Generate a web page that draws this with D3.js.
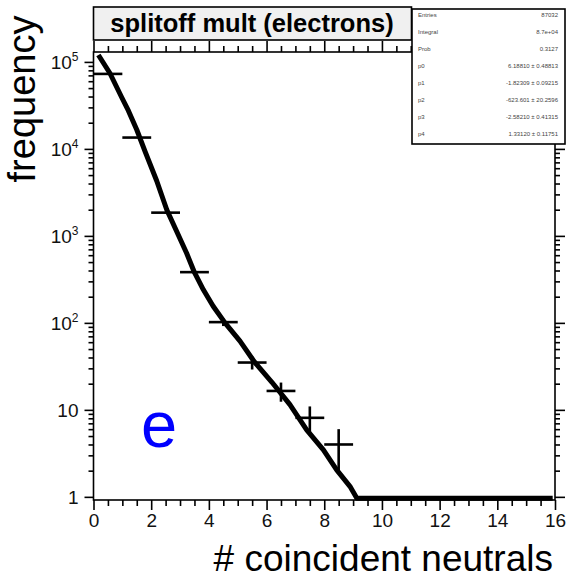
<!DOCTYPE html>
<html>
<head>
<meta charset="utf-8">
<script src="https://cdn.jsdelivr.net/npm/d3@7"></script>
<style>
  html, body { margin: 0; padding: 0; background: #fff; }
  svg { display: block; font-family: "Liberation Sans", Arial, sans-serif; }
</style>
</head>
<body>
<svg id="chart" width="567" height="578"></svg>
<script>
// ---- data ----
const binCenters = [0.5, 1.5, 2.5, 3.5, 4.5, 5.5, 6.5, 7.5, 8.5];
const binCounts  = [72800, 13500, 1850, 383, 102, 35, 16.5, 8.1, 4];
const binErrors  = [270, 116, 43, 19.6, 10.1, 5.9, 4.1, 2.85, 2];
const binHalfWidth = 0.5;

const fitX = [0.17, 0.57, 0.98, 1.21, 1.50, 1.79, 2.19, 2.54, 2.83, 3.23, 3.50, 3.81, 4.15, 4.56, 5.08, 5.58, 6.18, 6.81, 7.39, 7.97, 8.43, 8.89, 9.13, 15.92];
const fitY = [120200, 74100, 39000, 27500, 16600, 9300, 4300, 2000, 1230, 631, 380, 240, 155, 100, 61.7, 35.5, 20.9, 11.5, 5.89, 3.47, 2.04, 1.32, 0.965, 0.965];

const xTickValues = [0, 2, 4, 6, 8, 10, 12, 14, 16];
const xTickLabels = ["0", "2", "4", "6", "8", "10", "12", "14", "16"];
const yTickValues = [1, 10, 100, 1000, 10000, 100000];
const yTickBase   = ["1", "10", "10", "10", "10", "10"];
const yTickExp    = ["", "", "2", "3", "4", "5"];

const titleText = "splitoff mult (electrons)";
const xLabel = "# coincident neutrals";
const yLabel = "frequency";
const panelTag = "e";

const statNames  = ["Entries", "Integral", "Prob", "p0", "p1", "p2", "p3", "p4"];
const statValues = ["87032", "8.7e+04", "0.3127", "6.18810 \u00b1 0.48813", "-1.82309 \u00b1 0.09215",
                     "-623.601 \u00b1 20.2596", "-2.58210 \u00b1 0.41315", "1.33120 \u00b1 0.11751"];

// ---- layout ----
const svg = d3.select("#chart");
const X0 = 93.5, X1 = 555, Y0 = 500, Y1 = 52;

const x = d3.scaleLinear().domain([0, 16]).range([X0, X1]);
const y = d3.scaleLog().domain([0.92, 1.3e5]).range([Y0, Y1]);

const xMinor = d3.range(0, 16.001, 0.5).filter(v => !xTickValues.includes(v));
const yMinor = [];
for (let e = 0; e <= 5; e++) for (let m = 2; m <= 9; m++) {
  const v = m * Math.pow(10, e);
  if (v >= 0.92 && v <= 1.3e5) yMinor.push(v);
}

const lw = 1.6;
function styleAxis(g) {
  g.select(".domain").remove();
  g.selectAll("line").attr("stroke", "#000").attr("stroke-width", lw);
}

// title box
svg.append("rect").attr("x", X0).attr("y", 7).attr("width", 318).attr("height", 33)
  .attr("fill", "#f0f0f0").attr("stroke", "#000").attr("stroke-width", lw);
svg.append("text").attr("x", 252).attr("y", 32).attr("text-anchor", "middle")
  .attr("font-size", 25.5).attr("font-weight", "bold").text(titleText);

// axes
const gB = svg.append("g").attr("transform", `translate(0,${Y0})`)
  .call(d3.axisBottom(x).tickValues(xTickValues).tickSize(10).tickPadding(4)
    .tickFormat((d, i) => xTickLabels[i]));
styleAxis(gB);
gB.selectAll("text").attr("font-size", 19).attr("fill", "#111").attr("font-family", null);
svg.append("g").attr("transform", `translate(0,${Y0})`)
  .call(d3.axisBottom(x).tickValues(xMinor).tickSize(6).tickFormat("")).call(styleAxis);

svg.append("g").attr("transform", `translate(0,${Y1})`)
  .call(d3.axisTop(x).tickValues(xTickValues).tickSize(11).tickFormat("")).call(styleAxis);
svg.append("g").attr("transform", `translate(0,${Y1})`)
  .call(d3.axisTop(x).tickValues(xMinor).tickSize(6).tickFormat("")).call(styleAxis);

const gL = svg.append("g").attr("transform", `translate(${X0},0)`)
  .call(d3.axisLeft(y).tickValues(yTickValues).tickSize(9).tickPadding(6).tickFormat(""));
styleAxis(gL);
gL.selectAll(".tick").each(function(d, i) {
  const t = d3.select(this).append("text")
    .attr("x", -15).attr("dy", "0.36em").attr("text-anchor", "end")
    .attr("font-size", 19).attr("fill", "#111");
  if (yTickExp[i]) {
    t.append("tspan").text(yTickBase[i]);
    t.append("tspan").attr("font-size", 12).attr("dy", -8).text(yTickExp[i]);
  } else {
    t.text(yTickBase[i]);
  }
});
svg.append("g").attr("transform", `translate(${X0},0)`)
  .call(d3.axisLeft(y).tickValues(yMinor).tickSize(5).tickFormat("")).call(styleAxis);

svg.append("g").attr("transform", `translate(${X1},0)`)
  .call(d3.axisRight(y).tickValues(yTickValues).tickSize(10).tickFormat("")).call(styleAxis);
svg.append("g").attr("transform", `translate(${X1},0)`)
  .call(d3.axisRight(y).tickValues(yMinor).tickSize(5).tickFormat("")).call(styleAxis);

// frame
svg.append("rect").attr("x", X0).attr("y", Y1).attr("width", X1 - X0).attr("height", Y0 - Y1)
  .attr("fill", "none").attr("stroke", "#000").attr("stroke-width", lw);

// fit curve
const fitData = fitX.map((v, i) => [v, fitY[i]]);
svg.append("path").datum(fitData)
  .attr("d", d3.line().x(d => x(d[0])).y(d => y(d[1])))
  .attr("fill", "none").attr("stroke", "#000").attr("stroke-width", 5)
  .attr("stroke-linejoin", "round");

// data points with error bars
const pts = svg.append("g").attr("stroke", "#000").attr("stroke-width", 2.6);
binCenters.forEach((c, i) => {
  pts.append("line")
    .attr("x1", x(c - binHalfWidth)).attr("x2", x(c + binHalfWidth))
    .attr("y1", y(binCounts[i])).attr("y2", y(binCounts[i]));
  pts.append("line")
    .attr("x1", x(c)).attr("x2", x(c))
    .attr("y1", y(binCounts[i] - binErrors[i])).attr("y2", y(binCounts[i] + binErrors[i]));
});

// stats box
svg.append("rect").attr("x", 412).attr("y", 9).attr("width", 153).attr("height", 135)
  .attr("fill", "#fff").attr("stroke", "#000").attr("stroke-width", lw);
const rowY = d3.scaleLinear().domain([0, statNames.length - 1]).range([17, 136]);
statNames.forEach((n, i) => {
  svg.append("text").attr("x", 418).attr("y", rowY(i)).attr("font-size", 6)
    .attr("fill", "#444").text(n);
  svg.append("text").attr("x", 558).attr("y", rowY(i)).attr("font-size", 6)
    .attr("fill", "#444").attr("text-anchor", "end").text(statValues[i]);
});

// labels
svg.append("text").attr("x", 553).attr("y", 571).attr("text-anchor", "end")
  .attr("font-size", 37).text(xLabel);
svg.append("text").attr("transform", "translate(35,99) rotate(-90)")
  .attr("text-anchor", "middle").attr("font-size", 38).text(yLabel);
svg.append("text").attr("x", 141).attr("y", 447).attr("font-size", 65)
  .attr("fill", "#0000ff").text(panelTag);
</script>
</body>
</html>
